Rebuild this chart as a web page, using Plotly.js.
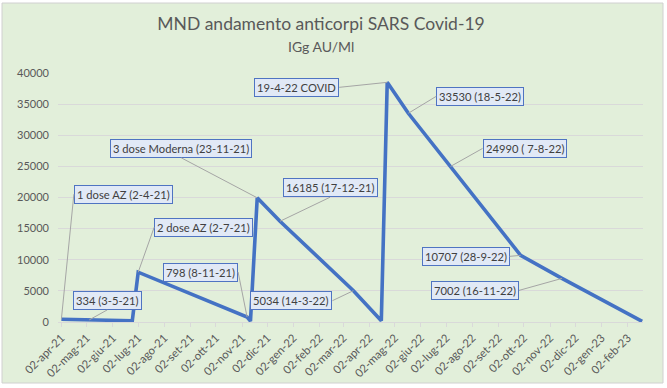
<!DOCTYPE html>
<html>
<head>
<meta charset="utf-8">
<script src="https://cdn.plot.ly/plotly-3.0.1.min.js"></script>
<style>html,body{margin:0;padding:0;background:#fff;}#chart{width:667px;height:388px;}</style>
</head>
<body>
<div id="chart"></div>
<script>
// ---- data ----
var dates = ['2021-04-02','2021-05-05','2021-06-25','2021-07-02','2021-11-08','2021-11-12','2021-11-20',
             '2021-12-17','2022-03-14','2022-04-16','2022-04-23','2022-05-18','2022-07-07','2022-09-28',
             '2022-11-16','2023-02-19'];
var values = [450, 334, 200, 8000, 798, 150, 19950, 16185, 5034, 200, 38500, 33530, 24990, 10707, 7002, 100];

var tickDates = ['2021-04-02','2021-05-02','2021-06-02','2021-07-02','2021-08-02','2021-09-02','2021-10-02',
                 '2021-11-02','2021-12-02','2022-01-02','2022-02-02','2022-03-02','2022-04-02','2022-05-02',
                 '2022-06-02','2022-07-02','2022-08-02','2022-09-02','2022-10-02','2022-11-02','2022-12-02',
                 '2023-01-02','2023-02-02'];
var tickLabels = ['02-apr-21','02-mag-21','02-giu-21','02-lug-21','02-ago-21','02-set-21','02-ott-21',
                  '02-nov-21','02-dic-21','02-gen-22','02-feb-22','02-mar-22','02-apr-22','02-mag-22',
                  '02-giu-22','02-lug-22','02-ago-22','02-set-22','02-ott-22','02-nov-22','02-dic-22',
                  '02-gen-23','02-feb-23'];
var yTickVals = [0, 5000, 10000, 15000, 20000, 25000, 30000, 35000, 40000];
var yTickLabels = ['0', '5000', '10000', '15000', '20000', '25000', '30000', '35000', '40000'];

var labelPoint = [0, 1, 3, 6, 4, 8, 7, 10, 11, 12, 13, 14];
var labelText = ['1 dose AZ (2-4-21)', '334 (3-5-21)', '2 dose AZ (2-7-21)', '3 dose Moderna (23-11-21)',
                 '798 (8-11-21)', '5034 (14-3-22)', '16185 (17-12-21)', '19-4-22 COVID',
                 '33530 (18-5-22)', '24990 ( 7-8-22)', '10707 (28-9-22)', '7002 (16-11-22)'];

// ---- label placement (layout only) ----
var labelAx = [12.5, 18, 16, -76, -9, -21, 50, -48, 28, 32, -11, -43];
var labelAy = [-125, -10, -45, -40, -45, 10, -24, 5, -17, -18, 1, 12];
var labelXanchor = ['left','center','left','center','right','right','center','right','left','left','right','right'];
var labelYanchor = ['middle','bottom','middle','bottom','middle','middle','bottom','middle','middle','middle','middle','middle'];

var W = 667, H = 388;
var M = {l: 58, r: 24, t: 73, b: 66};
var pw = W - M.l - M.r, ph = H - M.t - M.b;
function px(x) { return (x - M.l) / pw; }
function py(y) { return (H - M.b - y) / ph; }

var FONT = 'Lato, "Open Sans", sans-serif';

var annotations = labelText.map(function (t, i) {
  return {
    x: dates[labelPoint[i]], y: values[labelPoint[i]], xref: 'x', yref: 'y',
    text: t, showarrow: true, arrowhead: 0, arrowwidth: 1, arrowcolor: '#a5a5a5',
    standoff: 0, ax: labelAx[i], ay: labelAy[i],
    xanchor: labelXanchor[i], yanchor: labelYanchor[i],
    bgcolor: '#e1e9f6', bordercolor: '#4f74c2', borderwidth: 1, borderpad: 2,
    font: {family: FONT, size: 11.2, color: '#404040'}
  };
});
annotations.push({
  xref: 'paper', yref: 'paper', x: px(321), y: py(46), showarrow: false,
  text: 'IGg AU/Ml', xanchor: 'center', yanchor: 'middle',
  font: {family: FONT, size: 14, color: '#595959'}
});

var trace = {
  x: dates, y: values, type: 'scatter', mode: 'lines',
  line: {color: '#4472c4', width: 3.6}, cliponaxis: false, hoverinfo: 'skip'
};

var layout = {
  width: W, height: H, margin: M,
  paper_bgcolor: '#ffffff', plot_bgcolor: 'rgba(0,0,0,0)',
  showlegend: false,
  title: {text: 'MND andamento anticorpi SARS Covid-19', x: 321 / W, xref: 'container', xanchor: 'center',
          y: 1 - 24 / H, yref: 'container', yanchor: 'middle',
          font: {family: FONT, size: 17.5, color: '#595959'}},
  xaxis: {
    type: 'date', range: ['2021-03-29', '2023-02-20'],
    tickvals: tickDates, ticktext: tickLabels, tickangle: -45,
    tickfont: {family: FONT, size: 11.3, color: '#595959'},
    showgrid: false, zeroline: false, showline: true, linecolor: '#d9d9d9', linewidth: 1,
    ticks: 'outside', ticklen: 4, tickcolor: '#d9d9d9', fixedrange: true
  },
  yaxis: {
    range: [0, 40000], tickvals: yTickVals, ticktext: yTickLabels,
    tickfont: {family: FONT, size: 11, color: '#595959'},
    showgrid: true, gridcolor: '#d9d9d9', gridwidth: 1, zeroline: false, showline: false,
    ticks: '', ticklabelstandoff: 8, fixedrange: true
  },
  shapes: [{
    type: 'rect', layer: 'below', xref: 'paper', yref: 'paper',
    x0: px(2), x1: px(663), y0: py(383), y1: py(3),
    fillcolor: '#e2efda', line: {color: '#d0d0d0', width: 1}
  }],
  annotations: annotations
};

Plotly.newPlot('chart', [trace], layout, {staticPlot: true, displayModeBar: false});
</script>
</body>
</html>
